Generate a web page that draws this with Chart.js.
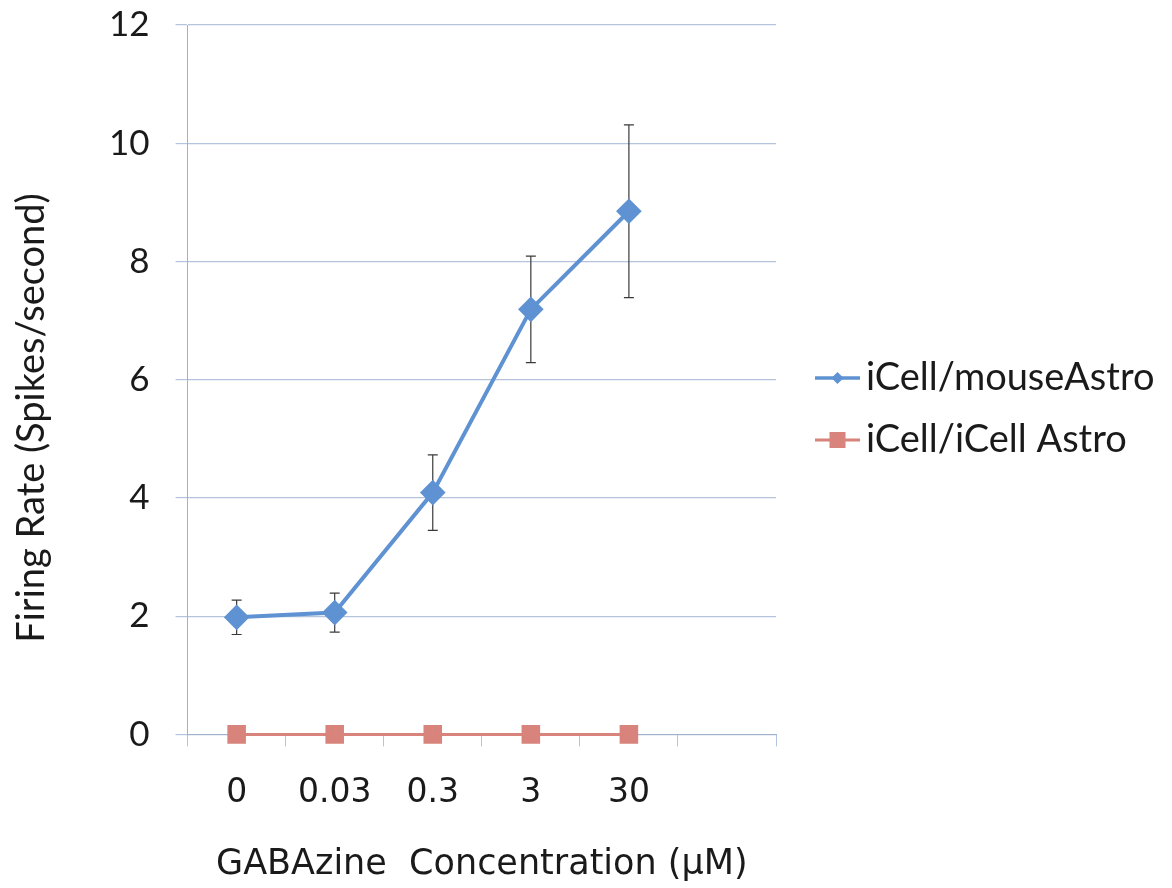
<!DOCTYPE html>
<html>
<head>
<meta charset="utf-8">
<script src="https://cdn.jsdelivr.net/npm/chart.js@4.4.1/dist/chart.umd.min.js"></script>
<style>
  html, body { margin: 0; padding: 0; background: #fff; }
  #wrap { position: relative; width: 1172px; height: 888px; }
</style>
</head>
<body>
<div id="wrap"><canvas id="rateChart"></canvas></div>

<script>
    // GABAzine concentrations (uM); the last slot is an empty category on the axis
    const concLabels = ["0", "0.03", "0.3", "3", "30", ""];
    const mouseAstroRate = [1.98, 2.06, 4.09, 7.19, 8.85];
    const mouseAstroErr = [0.29, 0.33, 0.64, 0.90, 1.46];
    const icellAstroRate = [0, 0, 0, 0, 0];
    const yTicks = [0, 2, 4, 6, 8, 10, 12];

    const seriesNames = ["iCell/mouseAstro", "iCell/iCell Astro"];
    const yTitle = "Firing Rate (Spikes/second)";
    const xTitle = "GABAzine  Concentration (\u03BCM)";
    const blue = "#5f92d2";
    const red = "#d8837b";
    const gridColor = "#b3c4dc";

    // error bars for the mouse astrocyte series, drawn under the markers
    const errorBars = {
        id: 'errorBars',
        beforeDatasetsDraw(chart) {
            const ctx = chart.ctx;
            const xs = chart.scales.x, ys = chart.scales.y;
            ctx.save();
            ctx.strokeStyle = "#3a3a3a";
            ctx.lineWidth = 1.2;
            mouseAstroRate.forEach(function (v, i) {
                let x = xs.getPixelForValue(i);
                let top = ys.getPixelForValue(v + mouseAstroErr[i]);
                let bot = ys.getPixelForValue(v - mouseAstroErr[i]);
                ctx.beginPath();
                ctx.moveTo(x, top); ctx.lineTo(x, bot);
                ctx.moveTo(x - 5, top); ctx.lineTo(x + 5, top);
                ctx.moveTo(x - 5, bot); ctx.lineTo(x + 5, bot);
                ctx.stroke();
            });
            ctx.restore();
        }
    };

    // y title sits a bit below the middle of the axis, so it is drawn by hand
    const sideTitle = {
        id: 'sideTitle',
        afterDraw(chart) {
            const ctx = chart.ctx;
            ctx.save();
            ctx.translate(32, 418);
            ctx.rotate(-Math.PI / 2);
            ctx.fillStyle = "#1a1a1a";
            ctx.font = "38px Lato";
            ctx.textAlign = "center";
            ctx.textBaseline = "middle";
            ctx.fillText(yTitle, 0, 0);
            ctx.restore();
        }
    };

    // legend to the right: short line with the series marker, then the name
    const sideLegend = {
        id: 'sideLegend',
        afterDraw(chart) {
            const ctx = chart.ctx;
            const x0 = 815, x1 = 860;
            const rows = [
                { y: 378, color: blue, marker: 'diamond', width: 3.5 },
                { y: 440, color: red, marker: 'square', width: 3 }
            ];
            ctx.save();
            rows.forEach(function (r, i) {
                ctx.strokeStyle = r.color;
                ctx.lineWidth = r.width;
                ctx.beginPath();
                ctx.moveTo(x0, r.y); ctx.lineTo(x1, r.y);
                ctx.stroke();
                let cx = (x0 + x1) / 2;
                ctx.fillStyle = r.color;
                ctx.beginPath();
                if (r.marker == 'diamond') {
                    ctx.moveTo(cx, r.y - 6); ctx.lineTo(cx + 6, r.y);
                    ctx.lineTo(cx, r.y + 6); ctx.lineTo(cx - 6, r.y);
                } else {
                    ctx.rect(cx - 8, r.y - 8, 16, 16);
                }
                ctx.closePath();
                ctx.fill();
                ctx.fillStyle = "#1a1a1a";
                ctx.font = "38px Lato";
                ctx.textBaseline = "middle";
                ctx.textAlign = "left";
                ctx.fillText(seriesNames[i], 866, r.y);
            });
            ctx.restore();
        }
    };

    new Chart(document.getElementById('rateChart'), {
        type: 'line',
        data: {
            labels: concLabels,
            datasets: [
                {
                    label: seriesNames[0],
                    data: mouseAstroRate,
                    borderColor: blue,
                    backgroundColor: blue,
                    borderWidth: 4,
                    pointStyle: 'rectRot',
                    pointRadius: 10,
                    pointHoverRadius: 10,
                    tension: 0,
                    clip: false
                },
                {
                    label: seriesNames[1],
                    data: icellAstroRate,
                    borderColor: red,
                    backgroundColor: red,
                    borderWidth: 3,
                    pointStyle: 'rect',
                    pointRadius: 11,
                    pointHoverRadius: 11,
                    tension: 0,
                    clip: false
                }
            ]
        },
        options: {
            responsive: true,
            maintainAspectRatio: false,
            animation: false,
            layout: {
                padding: { left: 83, right: 396, top: 25, bottom: 2 }
            },
            scales: {
                x: {
                    offset: true,
                    grid: {
                        offset: true,
                        drawOnChartArea: false,
                        color: gridColor,
                        tickLength: 12
                    },
                    border: { color: "#9fb2cd" },
                    ticks: {
                        color: "#1a1a1a",
                        font: { family: "DejaVu Sans", size: 33 },
                        padding: 27,
                        maxRotation: 0,
                        autoSkip: false
                    },
                    title: {
                        display: true,
                        text: xTitle,
                        color: "#1a1a1a",
                        font: { family: "DejaVu Sans", size: 35 },
                        padding: { top: 4, bottom: 0 }
                    }
                },
                y: {
                    min: 0,
                    max: 12,
                    afterBuildTicks(axis) {
                        axis.ticks = yTicks.map(function (v) { return { value: v }; });
                    },
                    // the tick padding would otherwise push the plot top down
                    afterFit(axis) {
                        axis.paddingTop = 0;
                        axis.paddingBottom = 0;
                    },
                    grid: {
                        color: gridColor,
                        tickLength: 12,
                        lineWidth: 1.2
                    },
                    border: { color: "#9fb2cd" },
                    ticks: {
                        color: "#1a1a1a",
                        font: { family: "Lato", size: 35 },
                        padding: 26
                    }
                }
            },
            plugins: {
                legend: { display: false },
                tooltip: { enabled: false }
            }
        },
        plugins: [errorBars, sideTitle, sideLegend]
    });
</script>
</body>
</html>
